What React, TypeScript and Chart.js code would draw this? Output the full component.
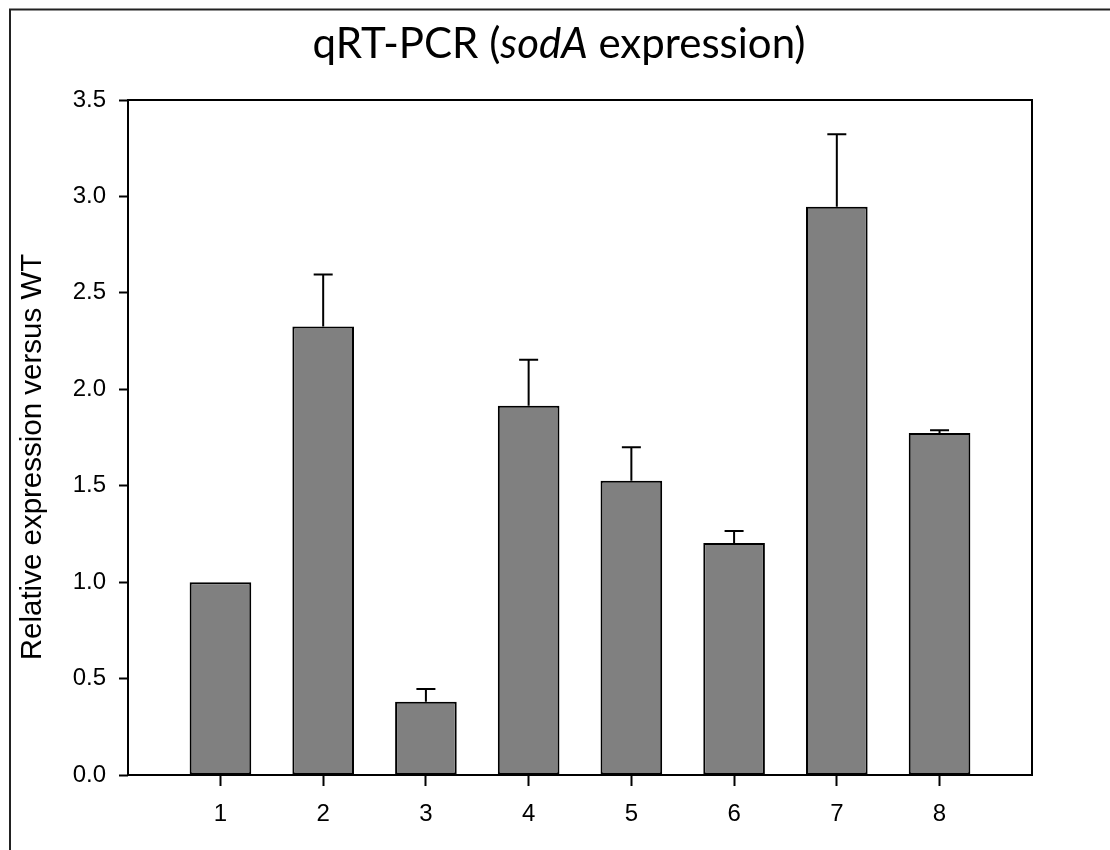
import React, { useEffect, useRef } from 'react';
import { Chart, registerables } from 'chart.js';

Chart.register(...registerables);

const categories = ['1', '2', '3', '4', '5', '6', '7', '8'];
const means = [1.0, 2.325, 0.38, 1.914, 1.526, 1.203, 2.946, 1.773];
const errors = [0, 0.27, 0.066, 0.239, 0.174, 0.062, 0.377, 0.015];
const yTickValues = [0, 0.5, 1.0, 1.5, 2.0, 2.5, 3.0, 3.5];
const titleParts = [
  { text: 'qRT-PCR (', italic: false },
  { text: 'sodA', italic: true },
  { text: ' expression)', italic: false },
];
const yAxisTitle = 'Relative expression versus WT';

const TITLE_FONT = 'Lato, "Open Sans", sans-serif';
const AXIS_FONT = '"Liberation Sans", Arial, sans-serif';

const decorPlugin = {
  id: 'decor',
  beforeDraw(chart: any) {
    const ctx = chart.ctx;
    ctx.save();
    ctx.fillStyle = '#ffffff';
    ctx.fillRect(0, 0, chart.width, chart.height);
    ctx.restore();
  },
  afterDraw(chart: any) {
    const ctx = chart.ctx;
    const a = chart.chartArea;
    ctx.save();
    // outer frame
    ctx.strokeStyle = '#222222';
    ctx.lineWidth = 2;
    ctx.strokeRect(10, 9.5, chart.width + 20, chart.height + 20);
    // plot box
    ctx.strokeStyle = '#000000';
    ctx.lineWidth = 2;
    ctx.strokeRect(a.left, a.top, a.right - a.left, a.bottom - a.top);
    // title
    ctx.fillStyle = '#000000';
    ctx.textBaseline = 'alphabetic';
    const size = 42;
    const fonts = titleParts.map((p) => `${p.italic ? 'italic ' : ''}${size}px ${TITLE_FONT}`);
    let total = 0;
    const widths = titleParts.map((p, i) => {
      ctx.font = fonts[i];
      const w = ctx.measureText(p.text).width;
      total += w;
      return w;
    });
    let x = 559 - total / 2;
    titleParts.forEach((p, i) => {
      ctx.font = fonts[i];
      ctx.textAlign = 'left';
      ctx.fillText(p.text, x, 58);
      x += widths[i];
    });
    // y axis title
    ctx.translate(33, 457);
    ctx.rotate(-Math.PI / 2);
    ctx.font = `29.5px ${AXIS_FONT}`;
    ctx.textAlign = 'center';
    ctx.textBaseline = 'middle';
    ctx.fillText(yAxisTitle, 0, 0);
    ctx.restore();
  },
};

const errorBarPlugin = {
  id: 'errorBars',
  afterDatasetsDraw(chart: any) {
    const ctx = chart.ctx;
    const xs = chart.scales.x;
    const ys = chart.scales.y;
    ctx.save();
    ctx.strokeStyle = '#000000';
    ctx.lineWidth = 2;
    means.forEach((m, i) => {
      const e = errors[i];
      if (!e) return;
      const cx = xs.getPixelForValue(i + 1);
      const y0 = ys.getPixelForValue(m);
      const y1 = ys.getPixelForValue(m + e);
      ctx.beginPath();
      ctx.moveTo(cx, y0);
      ctx.lineTo(cx, y1);
      ctx.moveTo(cx - 9.5, y1);
      ctx.lineTo(cx + 9.5, y1);
      ctx.stroke();
    });
    ctx.restore();
  },
};

export default function App() {
  const ref = useRef<HTMLCanvasElement | null>(null);

  useEffect(() => {
    if (!ref.current) return;
    const chart = new Chart(ref.current, {
      type: 'bar',
      data: {
        datasets: [
          {
            data: means.map((m, i) => ({ x: i + 1, y: m })),
            backgroundColor: '#808080',
            borderColor: '#000000',
            borderWidth: 2,
            borderSkipped: false,
            barPercentage: 0.6,
            categoryPercentage: 1.0,
          },
        ],
      },
      options: {
        responsive: false,
        animation: false,
        devicePixelRatio: 1,
        layout: { padding: { left: 0, top: 100, right: 78, bottom: 0 } },
        plugins: {
          legend: { display: false },
          title: { display: false },
          tooltip: { enabled: false },
        },
        scales: {
          x: {
            type: 'linear',
            min: 0.1,
            max: 8.9,
            offset: false,
            afterBuildTicks: (scale: any) => {
              scale.ticks = categories.map((_, i) => ({ value: i + 1 }));
            },
            afterFit: (scale: any) => {
              scale.height = 75;
            },
            ticks: {
              autoSkip: false,
              maxRotation: 0,
              padding: 14,
              color: '#000000',
              font: { family: AXIS_FONT, size: 24 },
              callback: (v: any) => categories[Math.round(Number(v)) - 1] ?? '',
            },
            grid: {
              display: true,
              drawOnChartArea: false,
              drawTicks: true,
              tickLength: 11,
              tickWidth: 2,
              tickColor: '#000000',
              offset: false,
            },
            border: { display: false },
          },
          y: {
            type: 'linear',
            min: 0,
            max: 3.5,
            afterBuildTicks: (scale: any) => {
              scale.ticks = yTickValues.map((v) => ({ value: v }));
            },
            afterFit: (scale: any) => {
              scale.width = 128;
            },
            ticks: {
              padding: 13,
              color: '#000000',
              font: { family: AXIS_FONT, size: 24 },
              callback: (v: any) => Number(v).toFixed(1),
            },
            grid: {
              display: true,
              drawOnChartArea: false,
              drawTicks: true,
              tickLength: 9,
              tickWidth: 2,
              tickColor: '#000000',
            },
            border: { display: false },
          },
        },
      },
      plugins: [decorPlugin, errorBarPlugin],
    });
    return () => chart.destroy();
  }, []);

  return (
    <div style={{ position: 'fixed', left: 0, top: 0, width: 1110, height: 850, overflow: 'hidden' }}>
      <canvas ref={ref} width={1110} height={850} style={{ display: 'block', width: 1110, height: 850 }} />
    </div>
  );
}
